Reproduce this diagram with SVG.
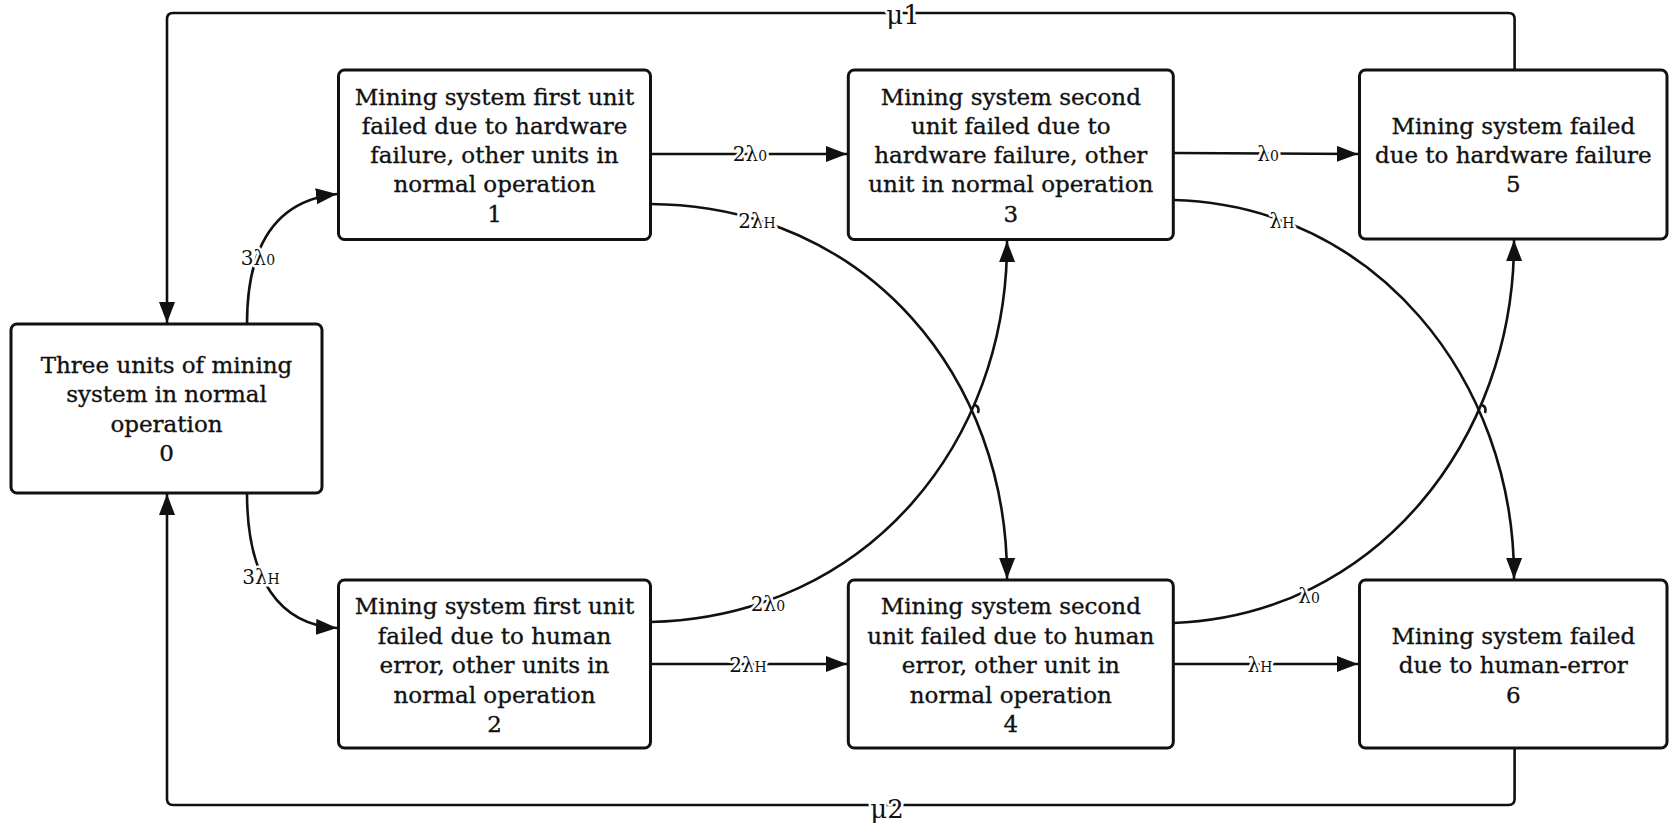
<svg xmlns="http://www.w3.org/2000/svg" width="1669" height="823" viewBox="0 0 1669 823">
<style>
.box{fill:#fff;stroke:#111;stroke-width:3}
.nt{font-family:"DejaVu Serif","Liberation Serif",serif;font-size:23px;fill:#111;stroke:#111;stroke-width:0.35px;text-anchor:middle}
.c{fill:none;stroke:#111;stroke-width:2.6}
.lbl{font-family:"DejaVu Serif","Liberation Serif",serif;font-size:20px;fill:#111;text-anchor:middle;paint-order:stroke;stroke:#fff;stroke-width:5px;stroke-linejoin:round}
.mu{font-size:26px}
.sub{font-size:14px}
</style>
<defs>
<marker id="ah" markerUnits="userSpaceOnUse" markerWidth="22" markerHeight="18" refX="21" refY="8" orient="auto">
<path d="M0,0 L21,8 L0,16 z" fill="#111"/>
</marker>
</defs>
<rect width="1669" height="823" fill="#fff"/>
<g id="connectors">
<path class="c" d="M1514.6 70 V19 Q1514.6 13 1508.6 13 H173 Q167 13 167 19 V323" marker-end="url(#ah)"/>
<path class="c" d="M1514.6 748 V799 Q1514.6 805 1508.6 805 H173 Q167 805 167 799 V494" marker-end="url(#ah)"/>
<path class="c" d="M247 324 C247 240 280 200 337 194" marker-end="url(#ah)"/>
<path class="c" d="M247 493 C247 580 280 625 337 628" marker-end="url(#ah)"/>
<path class="c" d="M650.5 154 H847" marker-end="url(#ah)"/>
<path class="c" d="M1173.3 153 L1358 154" marker-end="url(#ah)"/>
<path class="c" d="M650.5 664 H847" marker-end="url(#ah)"/>
<path class="c" d="M1173.3 664 H1358" marker-end="url(#ah)"/>
<path class="c" d="M650.5 204 C870 206 1008 380 1007 579" marker-end="url(#ah)"/>
<path class="c" d="M650.5 622 C870 616 1008 440 1007 241" marker-end="url(#ah)"/>
<path class="c" d="M1173.3 200 C1375 205 1515 380 1514 579" marker-end="url(#ah)"/>
<path class="c" d="M1173.3 623 C1375 616 1515 440 1514 240" marker-end="url(#ah)"/>
<path class="c" d="M975 405 q5 2 3 8" stroke-width="1.8"/>
<path class="c" d="M1482 405 q5 2 3 8" stroke-width="1.8"/>
<text class="lbl mu" x="903" y="24">μ1</text>
<text class="lbl mu" x="887" y="818">μ2</text>
<text class="lbl" x="258" y="265">3λ<tspan class="sub">0</tspan></text>
<text class="lbl" x="261" y="584">3λ<tspan class="sub">H</tspan></text>
<text class="lbl" x="750" y="161">2λ<tspan class="sub">0</tspan></text>
<text class="lbl" x="1268" y="161">λ<tspan class="sub">0</tspan></text>
<text class="lbl" x="757" y="228">2λ<tspan class="sub">H</tspan></text>
<text class="lbl" x="1282" y="228">λ<tspan class="sub">H</tspan></text>
<text class="lbl" x="768" y="611">2λ<tspan class="sub">0</tspan></text>
<text class="lbl" x="1309" y="603">λ<tspan class="sub">0</tspan></text>
<text class="lbl" x="748" y="672">2λ<tspan class="sub">H</tspan></text>
<text class="lbl" x="1260" y="672">λ<tspan class="sub">H</tspan></text>
</g>
<g id="n0">
<rect class="box" x="11" y="324" width="311" height="169" rx="6"/>
<text class="nt"><tspan x="166.5" y="372.6">Three units of mining</tspan><tspan x="166.5" y="402">system in normal</tspan><tspan x="166.5" y="431.5">operation</tspan><tspan x="166.5" y="461">0</tspan></text>
</g>
<g id="n1">
<rect class="box" x="338.5" y="70" width="312" height="169.5" rx="6"/>
<text class="nt"><tspan x="494.5" y="104.5">Mining system first unit</tspan><tspan x="494.5" y="133.8">failed due to hardware</tspan><tspan x="494.5" y="163.1">failure, other units in</tspan><tspan x="494.5" y="192.4">normal operation</tspan><tspan x="494.5" y="221.7">1</tspan></text>
</g>
<g id="n2">
<rect class="box" x="338.5" y="580" width="312" height="168" rx="6"/>
<text class="nt"><tspan x="494.5" y="614">Mining system first unit</tspan><tspan x="494.5" y="643.5">failed due to human</tspan><tspan x="494.5" y="673">error, other units in</tspan><tspan x="494.5" y="702.5">normal operation</tspan><tspan x="494.5" y="732">2</tspan></text>
</g>
<g id="n3">
<rect class="box" x="848.3" y="70" width="325" height="169.5" rx="6"/>
<text class="nt"><tspan x="1010.8" y="104.5">Mining system second</tspan><tspan x="1010.8" y="133.8">unit failed due to</tspan><tspan x="1010.8" y="163.1">hardware failure, other</tspan><tspan x="1010.8" y="192.4">unit in normal operation</tspan><tspan x="1010.8" y="221.7">3</tspan></text>
</g>
<g id="n4">
<rect class="box" x="848.3" y="580" width="325" height="168" rx="6"/>
<text class="nt"><tspan x="1010.8" y="614">Mining system second</tspan><tspan x="1010.8" y="643.5">unit failed due to human</tspan><tspan x="1010.8" y="673">error, other unit in</tspan><tspan x="1010.8" y="702.5">normal operation</tspan><tspan x="1010.8" y="732">4</tspan></text>
</g>
<g id="n5">
<rect class="box" x="1359.5" y="70" width="307.5" height="169" rx="6"/>
<text class="nt"><tspan x="1513.3" y="133.8">Mining system failed</tspan><tspan x="1513.3" y="163.1">due to hardware failure</tspan><tspan x="1513.3" y="192.4">5</tspan></text>
</g>
<g id="n6">
<rect class="box" x="1359.5" y="580" width="307.5" height="168" rx="6"/>
<text class="nt"><tspan x="1513.3" y="643.5">Mining system failed</tspan><tspan x="1513.3" y="673">due to human-error</tspan><tspan x="1513.3" y="702.5">6</tspan></text>
</g>
</svg>
